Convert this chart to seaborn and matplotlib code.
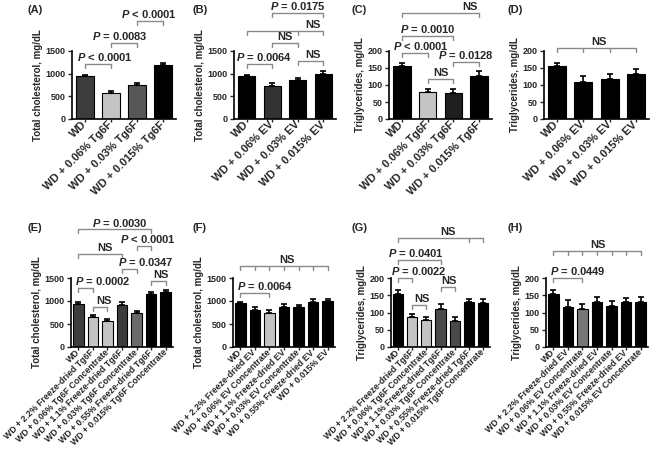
import matplotlib
matplotlib.use('Agg')
import matplotlib.pyplot as plt
import seaborn as sns

sns.set_style('ticks')
plt.rcParams['font.family'] = ['Liberation Sans', 'DejaVu Sans']
plt.rcParams['font.weight'] = 'bold'
plt.rcParams['mathtext.fontset'] = 'custom'
plt.rcParams['mathtext.bfit'] = 'Liberation Sans:italic:bold'
plt.rcParams['mathtext.it'] = 'Liberation Sans:italic:bold'

LG = '#c4c4c4'
DG = '#3c3c3c'

# ---- data ----
a_labels = ['WD', 'WD + 0.06% Tg6F', 'WD + 0.03% Tg6F', 'WD + 0.015% Tg6F']
a_vals = [940, 570, 750, 1200]
a_err = [40, 40, 40, 40]
a_cols = [DG, LG, '#565656', '#000000']

b_labels = ['WD', 'WD + 0.06% EV', 'WD + 0.03% EV', 'WD + 0.015% EV']
b_vals = [945, 720, 870, 995]
b_err = [35, 75, 45, 55]
b_cols = ['#000000', '#333333', '#000000', '#000000']

c_labels = a_labels
c_vals = [155, 80, 77, 127]
c_err = [10, 9, 11, 13]
c_cols = ['#000000', LG, '#1e1e1e', '#000000']

d_labels = b_labels
d_vals = [155, 110, 118, 131]
d_err = [10, 15, 14, 16]
d_cols = ['#000000'] * 4

e_labels = ['WD', 'WD + 2.2% Freeze-dried Tg6F', 'WD + 0.06% Tg6F Concentrate',
            'WD + 1.1% Freeze-dried Tg6F', 'WD + 0.03% Tg6F Concentrate',
            'WD + 0.55% Freeze-dried Tg6F', 'WD + 0.015% Tg6F Concentrate']
e_vals = [945, 660, 565, 920, 750, 1160, 1200]
e_err = [40, 45, 45, 50, 40, 25, 45]
e_cols = [DG, LG, LG, DG, '#6a6a6a', '#000000', '#000000']

f_labels = ['WD', 'WD + 2.2% Freeze-dried EV', 'WD + 0.06% EV Concentrate',
            'WD + 1.1% Freeze-dried EV', 'WD + 0.03% EV Concentrate',
            'WD + 0.55% Freeze-dried EV', 'WD + 0.015% EV']
f_vals = [950, 810, 730, 880, 880, 980, 990]
f_err = [35, 50, 70, 55, 40, 55, 60]
f_cols = ['#000000', '#000000', LG, '#000000', '#000000', '#000000', '#000000']

g_labels = e_labels
g_vals = [155, 88, 79, 110, 75, 131, 127]
g_err = [10, 8, 9, 15, 12, 7, 12]
g_cols = ['#000000', LG, LG, '#4a4a4a', '#4a4a4a', '#000000', '#000000']

h_labels = ['WD', 'WD + 2.2% Freeze-dried EV', 'WD + 0.06% EV Concentrate',
            'WD + 1.1% Freeze-dried EV', 'WD + 0.03% EV Concentrate',
            'WD + 0.55% Freeze-dried EV', 'WD + 0.015% EV Concentrate']
h_vals = [155, 115, 111, 131, 119, 129, 131]
h_err = [10, 22, 15, 14, 13, 13, 15]
h_cols = ['#000000', '#000000', '#777777', '#000000', '#000000', '#000000', '#000000']

P = r'$\mathbfit{P}$'
# (bar positions, height, text, text x)
a_br = [([0, 1], 1213, P + ' < 0.0001', 0.75), ([1, 2], 1676, P + ' = 0.0083', 1.33),
        ([2, 3], 2160, P + ' < 0.0001', 2.44)]
b_br = [([0, 1], 1213, P + ' = 0.0064', 0.68), ([2, 3], 1280, 'NS', 2.6),
        ([1, 2], 1676, 'NS', 1.5), ([0, 2, 3], 1940, 'NS', 2.6),
        ([1, 3], 2338, P + ' = 0.0175', 2.0)]
c_br = [([0, 1], 194, P + ' < 0.0001', 0.75), ([1, 2], 118, 'NS', 1.5),
        ([2, 3], 168, P + ' = 0.0128', 2.48), ([0, 2], 244, P + ' = 0.0010', 1.0),
        ([0, 3], 312, 'NS', 2.64)]
d_br = [([0, 1, 2, 3], 209, 'NS', 1.6)]
e_br = [([0, 1], 1280, P + ' = 0.0002', 1.67), ([1, 2], 868, 'NS', 1.74),
        ([3, 4], 1693, P + ' = 0.0347', 4.67), ([5, 6], 1432, 'NS', 5.7),
        ([0, 3], 2018, 'NS', 1.85), ([4, 5], 2192, P + ' < 0.0001', 4.8),
        ([0, 5], 2560, P + ' = 0.0030', 2.85)]
f_br = [([0, 2], 1172, P + ' = 0.0064', 1.69), ([0, 1, 2, 3, 4, 5, 6], 1758, 'NS', 3.2)]
g_br = [([0, 1], 200, P + ' = 0.0022', 1.47), ([1, 2], 122, 'NS', 1.72),
        ([3, 4], 174, 'NS', 3.6), ([0, 3], 252, P + ' = 0.0401', 1.29),
        ([0, 5, 6], 316, 'NS', 3.5)]
h_br = [([0, 2], 200, P + ' = 0.0449', 1.67), ([0, 1, 2, 3, 4, 5, 6], 278, 'NS', 3.05)]

W, H = 650, 455
fig = plt.figure(figsize=(6.5, 4.55), dpi=100)


def panel(rect, tag, tag_x, tag_y, labels, vals, err, cols, brackets, ymax, step,
          ylabel, xfs, barw):
    left, bottom, w, h = rect
    ax = fig.add_axes([left / W, (H - bottom) / H, w / W, h / H])
    sns.barplot(x=list(range(len(vals))), y=vals, hue=list(range(len(vals))),
                palette=cols, legend=False, ax=ax, width=barw,
                edgecolor='black', linewidth=0.8, saturation=1)
    ax.errorbar(range(len(vals)), vals, yerr=[[0] * len(err), err], fmt='none',
                ecolor='black', elinewidth=1.2, capsize=2.5, capthick=1.2)
    ax.set_xlim(-0.5, len(vals) - 0.5)
    ax.set_ylim(0, ymax)
    ax.set_yticks(range(0, ymax + 1, step))
    ax.tick_params(axis='y', labelsize=6.5, length=3, width=1, pad=1.5)
    ax.tick_params(axis='x', length=2, width=1, pad=1)
    ax.set_xticks(range(len(vals)))
    ax.set_xticklabels(labels, rotation=45, ha='right', va='center',
                       rotation_mode='anchor', fontsize=xfs, fontweight='bold')
    for t in ax.get_yticklabels():
        t.set_fontweight('bold')
    ax.set_ylabel(ylabel, fontsize=7, fontweight='bold', labelpad=2)
    ax.set_xlabel('')
    sns.despine(ax=ax)
    for s in ['left', 'bottom']:
        ax.spines[s].set_linewidth(1.2)
        ax.spines[s].set_color('black')
    drop = ymax * 0.055
    for xs, y, txt, tx in brackets:
        ax.plot([min(xs), max(xs)], [y, y], color='#8a8a8a', lw=1, clip_on=False,
                solid_capstyle='butt')
        for x in xs:
            ax.plot([x, x], [y, y - drop], color='#8a8a8a', lw=1, clip_on=False)
        ax.text(tx, y + ymax * 0.01, txt, ha='center', va='bottom', fontsize=8,
                fontweight='bold', clip_on=False)
    fig.text(tag_x / W, 1 - tag_y / H, tag, fontsize=8, fontweight='bold',
             ha='left', va='center')
    return ax


chol = 'Total cholesterol, mg/dL'
tg = 'Triglycerides, mg/dL'
panel((72, 119, 104, 68), '(A)', 27, 10, a_labels, a_vals, a_err, a_cols, a_br,
      1500, 500, chol, 8, 0.68)
panel((234, 119, 102, 68), '(B)', 192, 10, b_labels, b_vals, b_err, b_cols, b_br,
      1500, 500, chol, 8, 0.68)
panel((389, 119, 103, 68), '(C)', 352, 10, c_labels, c_vals, c_err, c_cols, c_br,
      200, 50, tg, 8, 0.68)
panel((544, 119, 105, 68), '(D)', 507, 10, d_labels, d_vals, d_err, d_cols, d_br,
      200, 50, tg, 8, 0.68)
panel((71, 347, 102, 69), '(E)', 27, 228, e_labels, e_vals, e_err, e_cols, e_br,
      1500, 500, chol, 6.3, 0.72)
panel((233, 347, 102, 69), '(F)', 192, 228, f_labels, f_vals, f_err, f_cols, f_br,
      1500, 500, chol, 6.3, 0.72)
panel((391, 347, 99, 69), '(G)', 352, 228, g_labels, g_vals, g_err, g_cols, g_br,
      200, 50, tg, 6.3, 0.72)
panel((546, 347, 102, 69), '(H)', 507, 228, h_labels, h_vals, h_err, h_cols, h_br,
      200, 50, tg, 6.3, 0.72)

fig.savefig('out.png', dpi=100)
